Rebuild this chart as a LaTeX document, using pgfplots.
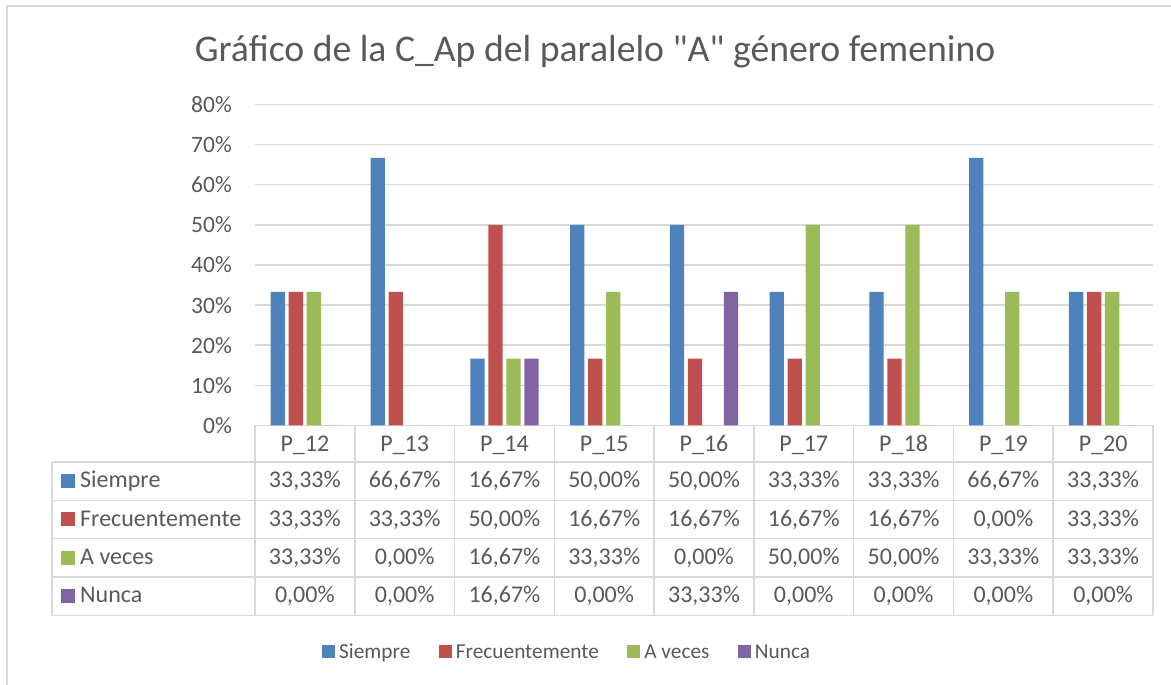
\documentclass[border=0pt]{standalone}
\usepackage{pgfplots}
\usepackage{pgfplotstable}
\pgfplotsset{compat=1.18}
\usepackage{fontspec}
\setmainfont{Carlito}
\definecolor{txt}{HTML}{595959}
\definecolor{grd}{HTML}{D9D9D9}
\definecolor{c0}{HTML}{4F81BD}
\definecolor{c1}{HTML}{C0504D}
\definecolor{c2}{HTML}{9BBB59}
\definecolor{c3}{HTML}{8064A2}
% comilla recta (sin la conversión TeX de " a ”)
\newcommand\dq{\XeTeXglyph\XeTeXcharglyph"22\relax}

% porcentajes por pregunta: Siempre, Frecuentemente, A veces, Nunca
\pgfplotstableread{
x s f a n
0 33.33 33.33 33.33 0
1 66.67 33.33 0 0
2 16.67 50.00 16.67 16.67
3 50.00 16.67 33.33 0
4 50.00 16.67 0 33.33
5 33.33 16.67 50.00 0
6 33.33 16.67 50.00 0
7 66.67 0 33.33 0
8 33.33 33.33 33.33 0
}\datos

\begin{document}
\begin{tikzpicture}
\begin{scope}[x=1pt,y=1pt]
\useasboundingbox (0,0) rectangle (1171,685);
\draw[grd, line width=1.5pt] (7,0) -- (7,679) -- (1171,679);
\end{scope}

\begin{axis}[
    at={(255pt,259.5pt)}, anchor=south west,
    scale only axis, width=898pt, height=321pt,
    xmin=-0.5, xmax=8.5, ymin=0, ymax=80,
    ybar=3.7pt, bar width=14.3pt,
    axis line style={draw=none},
    major tick length=0pt,
    xtick=\empty,
    ytick={0,10,20,30,40,50,60,70,80},
    yticklabels={0\%,10\%,20\%,30\%,40\%,50\%,60\%,70\%,80\%},
    yticklabel style={font=\fontsize{23.5}{28}\selectfont, text=txt,
        anchor=east, inner sep=0pt, xshift=-23pt},
    ymajorgrids, grid style={grd, line width=1.5pt},
    legend columns=4,
    legend image code/.code={\fill[#1] (0pt,-6.5pt) rectangle (13pt,6.5pt);},
    legend style={draw=none, fill=none, inner sep=0pt,
        at={(0.0746,-0.7056)}, anchor=west,
        font=\fontsize{21.3}{26}\selectfont, text=txt,
        nodes={inner sep=0pt},
        /tikz/every even column/.append style={column sep=28.5pt},
        /tikz/every odd column/.append style={column sep=4pt}},
]
\addplot[fill=c0, draw=none] table[x=x, y=s] {\datos};
\addplot[fill=c1, draw=none] table[x=x, y=f] {\datos};
\addplot[fill=c2, draw=none] table[x=x, y=a] {\datos};
\addplot[fill=c3, draw=none] table[x=x, y=n] {\datos};
\legend{Siempre, Frecuentemente, A veces, Nunca}
\end{axis}

\begin{scope}[x=1pt,y=1pt]
\node[anchor=base, inner sep=0pt, font=\fontsize{37.7}{45}\selectfont, text=txt] at (595,623)
    {Gráfico de la C\_Ap del paralelo \dq A\dq{} género femenino};

% tabla de datos
\begin{scope}[grd, line width=1.5pt]
\foreach \yy in {223,184.7,146.4,108,69.7}
    \draw (52,\yy) -- (1153,\yy);
\draw (52,223) -- (52,69.7);
\foreach \i in {0,...,9}
    \draw ({255+99.778*\i},259.5) -- ({255+99.778*\i},69.7);
\end{scope}

\begin{scope}[every node/.style={text=txt, inner sep=0pt, font=\fontsize{24}{29}\selectfont}]
\foreach \i in {12,...,20}
    \node[anchor=base] at ({255+99.778*(\i-12)+49.89},233.8) {P\_\i};
\foreach \nm/\col/\k in {Siempre/c0/0, Frecuentemente/c1/1, A veces/c2/2, Nunca/c3/3} {
    \fill[\col] (61,{204-38.33*\k-7}) rectangle (75,{204-38.33*\k+7});
    \node[anchor=base west] at (80,{197-38.33*\k}) {\nm};
}
\foreach \r in {0,...,8} {
    \foreach \c/\k in {s/0, f/1, a/2, n/3} {
        \pgfplotstablegetelem{\r}{\c}\of\datos
        \node[anchor=base] at ({255+99.778*\r+49.89},{197-38.33*\k})
            {\pgfmathprintnumber[fixed, fixed zerofill, precision=2, use comma,
              assume math mode=true]{\pgfplotsretval}\%};
    }
}
\end{scope}
\end{scope}
\end{tikzpicture}
\end{document}
